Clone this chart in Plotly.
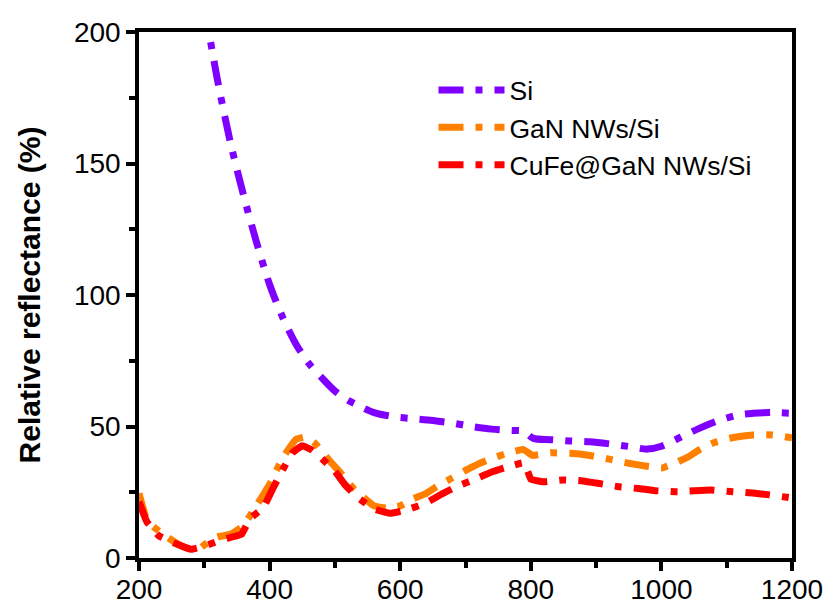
import plotly.graph_objects as go

si_x = [300, 320, 340, 360, 380, 400, 420, 440, 460, 480, 500, 520, 540, 560, 590, 620, 650, 680, 710, 740, 770, 788,
        804, 830, 860, 890, 920, 950, 978, 1000, 1030, 1058, 1090, 1120, 1140, 1170, 1200]
si_y = [210, 182, 158, 138, 120, 104, 91.5, 81.5, 74, 68.5, 63.5, 60, 57.5, 55.3, 53.7, 53, 52.3, 51.3, 50, 49, 48.5, 48.3,
        45.5, 45, 44.5, 44.2, 43.4, 42.4, 41.4, 42.5, 46, 49.3, 52.5, 54.5, 55, 55.3, 55]

gan_x = [200, 210, 220, 240, 260, 280, 290, 300, 320, 340, 360, 380, 400, 420, 440, 455, 470, 490, 510, 530, 560, 580,
         600, 620, 640, 660, 680, 700, 720, 740, 760, 788, 803, 830, 860, 890, 920, 950, 975, 1000, 1020, 1040, 1060,
         1080, 1110, 1140, 1170, 1200]
gan_y = [24.6, 16, 12.3, 8.5, 5.2, 3.2, 3, 5, 8, 9, 12.3, 20, 28, 38, 45, 46, 43.5, 37.5, 32, 26, 19.8, 19,
         19.8, 22.5, 24.6, 27.8, 30.5, 33.3, 35.8, 37.8, 39.5, 41.3, 39, 40, 39.8, 39, 37.6, 36, 35, 34.2, 36, 38.3, 41.5,
         43.8, 45.8, 46.8, 46.8, 45.7]

cufe_x = [200, 212, 230, 255, 280, 300, 320, 340, 357, 370, 390, 405, 420, 435, 450, 465, 480, 500, 515, 535, 560, 585,
          610, 640, 665, 685, 715, 740, 760, 790, 800, 820, 850, 880, 905, 935, 965, 990, 1025, 1050, 1075, 1110, 1140,
          1165, 1200]
cufe_y = [21.4, 13.8, 8.5, 5.6, 3.3, 4.5, 6.3, 7.8, 9, 15, 19, 26.5, 33.5, 40, 42.7, 41, 37.8, 33, 28, 23, 18.6, 17,
          18.3, 21, 24.5, 27, 30, 32.7, 34.3, 36.2, 30, 29, 29.7, 29.3, 28.3, 27.1, 26.4, 25.6, 25.2, 25.6, 25.9, 25.2, 24.7,
          24, 22.8]

names = ["Si", "GaN NWs/Si", "CuFe@GaN NWs/Si"]
colors = ["#7F00FF", "#FF8000", "#FF0000"]
smooth = [0.8, 0.3, 0.3]

x_ticks = [200, 400, 600, 800, 1000, 1200]
y_ticks = [0, 50, 100, 150, 200]

FONT = "Arial, 'Liberation Sans', sans-serif"
DASH = "25px,12px,7px,12px"

fig = go.Figure()
for i, (xs, ys) in enumerate([(si_x, si_y), (gan_x, gan_y), (cufe_x, cufe_y)]):
    fig.add_trace(go.Scatter(
        x=xs, y=ys, mode="lines", name=names[i], legendgroup=names[i],
        line=dict(color=colors[i], width=7, dash=DASH, shape="spline", smoothing=smooth[i]),
    ))

axis_common = dict(
    showline=True, linecolor="black", linewidth=3.5, mirror=True,
    ticks="outside", ticklen=9, tickwidth=3.5, tickcolor="black",
    showgrid=False, zeroline=False, automargin=False,
    tickfont=dict(family=FONT, size=28, color="black"),
)

fig.update_layout(
    width=831, height=606,
    margin=dict(l=131, r=47, t=24, b=56),
    paper_bgcolor="white", plot_bgcolor="white",
    xaxis=dict(range=[200, 1200], tickvals=x_ticks, ticklabelstandoff=-5,
               minor=dict(tickvals=[300, 500, 700, 900, 1100], ticks="outside", ticklen=6, tickwidth=3.5, tickcolor="black"),
               **axis_common),
    yaxis=dict(range=[0, 200], tickvals=y_ticks,
               minor=dict(tickvals=[25, 75, 125, 175], ticks="outside", ticklen=6, tickwidth=3.5, tickcolor="black"),
               title=dict(text="<b>Relative reflectance (%)</b>", font=dict(family=FONT, size=30, color="black"), standoff=25),
               **axis_common),
    legend=dict(x=0.451, y=0.935, xanchor="left", yanchor="top", bgcolor="rgba(0,0,0,0)",
                font=dict(family=FONT, size=26.5, color="black"), itemwidth=66, tracegroupgap=0,
                traceorder="grouped"),
    showlegend=True,
)

fig.write_html("out.html")
